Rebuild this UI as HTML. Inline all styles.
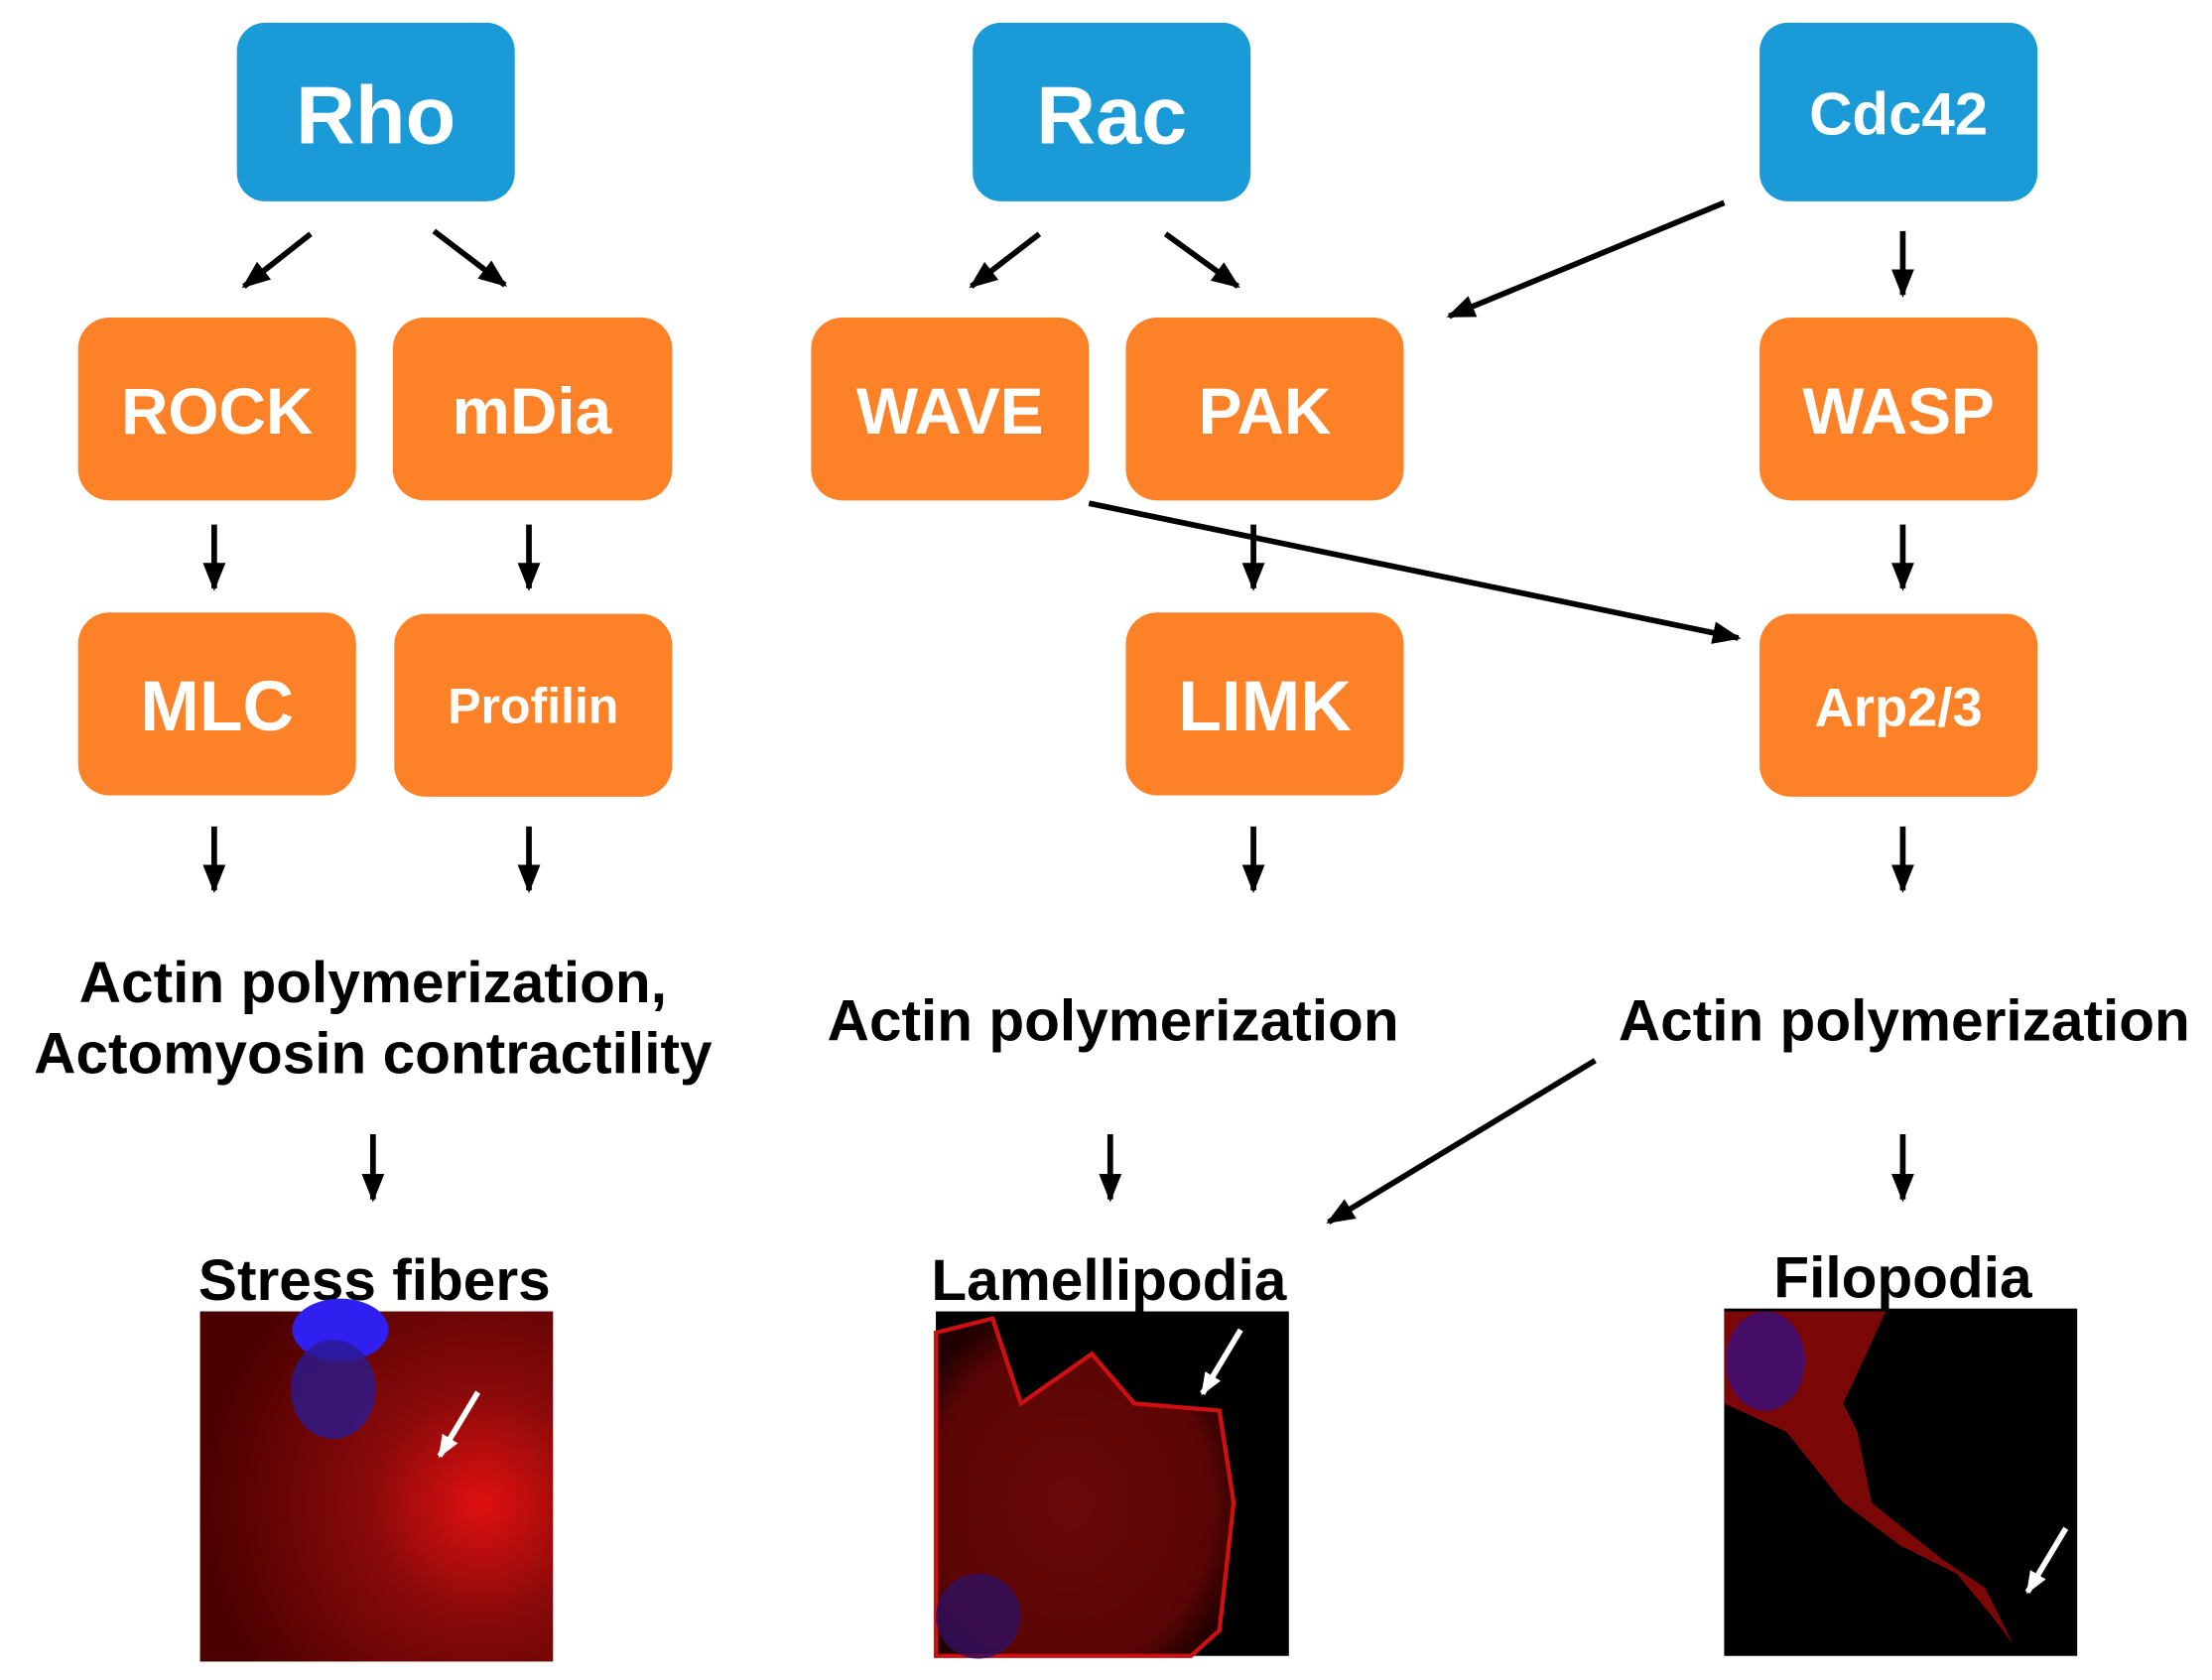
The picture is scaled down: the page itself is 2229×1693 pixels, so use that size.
<!DOCTYPE html>
<html><head><meta charset="utf-8"><style>
html,body{margin:0;padding:0;background:#fff}
svg{display:block}
text{font-family:"Liberation Sans",Arial,sans-serif;font-weight:bold}
</style></head><body>
<svg width="2229" height="1693" viewBox="0 0 1560 1185" xmlns="http://www.w3.org/2000/svg">
<defs>
<marker id="ah" viewBox="0 0 10 10" refX="9" refY="5" markerWidth="5" markerHeight="5" orient="auto" markerUnits="strokeWidth"><path d="M0,1 L10,5 L0,9 z" fill="#000"/></marker>
<marker id="aw" viewBox="0 0 10 10" refX="9" refY="5" markerWidth="4" markerHeight="4" orient="auto" markerUnits="strokeWidth"><path d="M0,1 L10,5 L0,9 z" fill="#fff"/></marker>
<radialGradient id="g1" cx="0.8" cy="0.55" r="0.8"><stop offset="0" stop-color="#e01010"/><stop offset="0.4" stop-color="#8a0a0a"/><stop offset="1" stop-color="#4a0000"/></radialGradient>
<radialGradient id="g2" cx="0.45" cy="0.55" r="0.6"><stop offset="0" stop-color="#6a0808"/><stop offset="0.8" stop-color="#5a0505"/><stop offset="1" stop-color="#200"/></radialGradient>
</defs>
<g fill="#1a9ad6">
<rect x="167" y="16" width="196" height="126" rx="20"/>
<rect x="686" y="16" width="196" height="126" rx="20"/>
<rect x="1241" y="16" width="196" height="126" rx="20"/>
</g>
<g fill="#fd8127">
<rect x="55" y="224" width="196" height="129" rx="22"/>
<rect x="277" y="224" width="197" height="129" rx="22"/>
<rect x="572" y="224" width="196" height="129" rx="22"/>
<rect x="794" y="224" width="196" height="129" rx="22"/>
<rect x="1241" y="224" width="196" height="129" rx="22"/>
<rect x="55" y="432" width="196" height="129" rx="22"/>
<rect x="278" y="433" width="196" height="129" rx="22"/>
<rect x="794" y="432" width="196" height="129" rx="22"/>
<rect x="1241" y="433" width="196" height="129" rx="22"/>
</g>
<g fill="#fff" text-anchor="middle">
<text x="265" y="101" font-size="58">Rho</text>
<text x="784" y="101" font-size="58">Rac</text>
<text x="1339" y="95" font-size="42">Cdc42</text>
<text x="153" y="306" font-size="46">ROCK</text>
<text x="375" y="306" font-size="46">mDia</text>
<text x="670" y="306" font-size="46">WAVE</text>
<text x="892" y="306" font-size="46">PAK</text>
<text x="1339" y="306" font-size="46">WASP</text>
<text x="153" y="515" font-size="50">MLC</text>
<text x="376" y="510" font-size="35">Profilin</text>
<text x="892" y="515" font-size="50">LIMK</text>
<text x="1339" y="512" font-size="38">Arp2/3</text>
</g>
<g stroke="#000" stroke-width="4" fill="none" marker-end="url(#ah)">
<line x1="219" y1="165" x2="172" y2="202"/>
<line x1="306" y1="163" x2="356" y2="201"/>
<line x1="733" y1="165" x2="685" y2="202"/>
<line x1="822" y1="165" x2="873" y2="202"/>
<line x1="1216" y1="143" x2="1022" y2="223"/>
<line x1="1342" y1="163" x2="1342" y2="208"/>
<line x1="151" y1="370" x2="151" y2="415"/>
<line x1="373" y1="370" x2="373" y2="415"/>
<line x1="884" y1="370" x2="884" y2="415"/>
<line x1="1342" y1="370" x2="1342" y2="415"/>
<line x1="768" y1="355" x2="1226" y2="450"/>
<line x1="151" y1="583" x2="151" y2="628"/>
<line x1="373" y1="583" x2="373" y2="628"/>
<line x1="884" y1="583" x2="884" y2="628"/>
<line x1="1342" y1="583" x2="1342" y2="628"/>
<line x1="263" y1="800" x2="263" y2="846"/>
<line x1="783" y1="800" x2="783" y2="846"/>
<line x1="1342" y1="800" x2="1342" y2="846"/>
<line x1="1125" y1="748" x2="937" y2="862"/>
</g>
<g fill="#000" text-anchor="middle" font-size="41">
<text x="263" y="707">Actin polymerization,</text>
<text x="263" y="757">Actomyosin contractility</text>
<text x="785" y="734">Actin polymerization</text>
<text x="1343" y="734">Actin polymerization</text>
<text x="264" y="917">Stress fibers</text>
<text x="782" y="917">Lamellipodia</text>
<text x="1342" y="915">Filopodia</text>
</g>
<!-- photos -->
<rect x="141" y="925" width="249" height="247" fill="url(#g1)"/>
<ellipse cx="240" cy="938" rx="34" ry="22" fill="#3020f0"/>
<ellipse cx="235" cy="980" rx="30" ry="35" fill="#2a1a90" opacity="0.8"/>
<line x1="337" y1="982" x2="310" y2="1027" stroke="#fff" stroke-width="4" marker-end="url(#aw)"/>
<rect x="660" y="925" width="249" height="243" fill="#000"/>
<path d="M660,940 L700,930 L720,990 L770,955 L800,990 L860,995 L870,1060 L860,1150 L840,1168 L660,1168 Z" fill="url(#g2)" stroke="#d01010" stroke-width="3"/>
<ellipse cx="690" cy="1140" rx="30" ry="30" fill="#301060" opacity="0.8"/>
<line x1="875" y1="938" x2="848" y2="983" stroke="#fff" stroke-width="4" marker-end="url(#aw)"/>
<rect x="1216" y="923" width="249" height="245" fill="#000"/>
<path d="M1216,925 L1330,925 L1300,990 L1310,1010 L1320,1060 L1370,1100 L1400,1120 L1420,1160 L1405,1140 L1380,1110 L1340,1090 L1300,1060 L1260,1010 L1216,990 Z" fill="#8a0808" opacity="0.9"/>
<ellipse cx="1245" cy="960" rx="28" ry="35" fill="#3a1080" opacity="0.8"/>
<line x1="1457" y1="1078" x2="1430" y2="1123" stroke="#fff" stroke-width="4" marker-end="url(#aw)"/>
</svg>
</body></html>
